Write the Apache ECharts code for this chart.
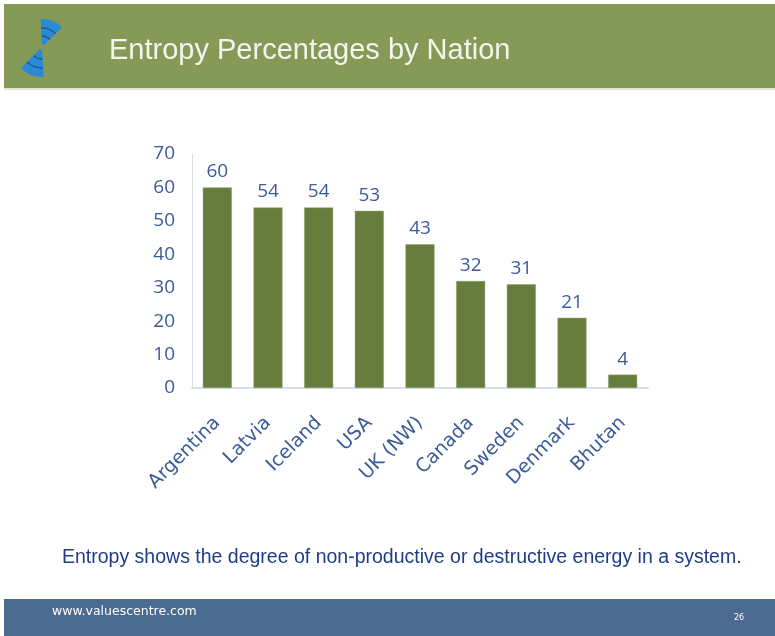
<!DOCTYPE html>
<html>
<head>
<meta charset="utf-8">
<script src="https://cdn.jsdelivr.net/npm/echarts@6/dist/echarts.min.js"></script>
<style>
html, body { margin: 0; padding: 0; background: #fff; }
#main { width: 775px; height: 636px; }
</style>
</head>
<body>
<div id="main"></div>
<script>
var nations = ['Argentina', 'Latvia', 'Iceland', 'USA', 'UK (NW)', 'Canada', 'Sweden', 'Denmark', 'Bhutan'];
var entropy = [60, 54, 54, 53, 43, 32, 31, 21, 4];
var yTicks = [0, 10, 20, 30, 40, 50, 60, 70];

var chart = echarts.init(document.getElementById('main'));
var blue = '#3b5c99';

// logo: two fans around a narrow waist, tilted
var lc = [42, 47];
var upA = -1.2, dnA = 1.94;
function fan(dir, r) {
    return { type: 'sector', z: -5, shape: { cx: lc[0], cy: lc[1], r: r, r0: 3, startAngle: dir - 0.42, endAngle: dir + 0.42 }, style: { fill: '#2b8ad6' } };
}
function ring(dir, r) {
    return { type: 'arc', z: -4, shape: { cx: lc[0], cy: lc[1], r: r, startAngle: dir - 0.42, endAngle: dir + 0.42 }, style: { stroke: '#1c5c9c', lineWidth: 1.5, fill: null } };
}

var option = {
    backgroundColor: '#ffffff',
    animation: false,
    title: {
        text: 'Entropy Percentages by Nation',
        left: 104,
        top: 31,
        textStyle: {
            color: '#f4f6ee',
            fontSize: 29,
            fontWeight: 'normal',
            fontFamily: 'Liberation Sans, sans-serif'
        }
    },
    grid: {
        left: 192,
        top: 154,
        width: 456,
        height: 234
    },
    xAxis: {
        type: 'category',
        data: nations,
        axisLine: { lineStyle: { color: '#d9dee8', width: 2 } },
        axisTick: { show: false },
        axisLabel: {
            rotate: 45,
            interval: 0,
            margin: 32,
            color: blue,
            fontSize: 19,
            fontFamily: 'DejaVu Sans, sans-serif'
        }
    },
    yAxis: {
        type: 'value',
        min: yTicks[0],
        max: yTicks[yTicks.length - 1],
        interval: 10,
        axisLine: { show: true, lineStyle: { color: '#d9dee8', width: 1 } },
        axisTick: { show: false },
        splitLine: { show: false },
        axisLabel: {
            margin: 17,
            color: blue,
            fontSize: 19,
            fontFamily: 'Open Sans, sans-serif'
        }
    },
    series: [{
        type: 'bar',
        data: entropy,
        barWidth: 29,
        itemStyle: { color: '#667d3d', borderColor: '#8fa06a', borderWidth: 0.5 },
        label: {
            show: true,
            position: 'top',
            distance: 6,
            color: blue,
            fontSize: 19,
            fontFamily: 'Open Sans, sans-serif'
        }
    }],
    graphic: [
        { type: 'rect', z: -10, shape: { x: 4, y: 4, width: 771, height: 84 }, style: { fill: '#849a56' } },
        { type: 'rect', z: -10, shape: { x: 4, y: 88, width: 771, height: 2 }, style: { fill: '#dfe6d2' } },
        fan(upA, 28), fan(dnA, 30),
        ring(upA, 11), ring(upA, 19), ring(dnA, 12), ring(dnA, 21),
        {
            type: 'text', left: 62, top: 548,
            style: {
                text: 'Entropy shows the degree of non-productive or destructive energy in a system.',
                fill: '#1f3c88', fontSize: 19.5, fontFamily: 'Liberation Sans, Arial, sans-serif'
            }
        },
        { type: 'rect', z: -10, shape: { x: 4, y: 599, width: 771, height: 37 }, style: { fill: '#4a6a8f' } },
        {
            type: 'text', left: 52, top: 605,
            style: { text: 'www.valuescentre.com', fill: '#ffffff', fontSize: 12.5, fontFamily: 'DejaVu Sans, sans-serif' }
        },
        {
            type: 'text', left: 734, top: 614,
            style: { text: '26', fill: '#ffffff', fontSize: 8, fontFamily: 'DejaVu Sans, sans-serif' }
        }
    ]
};

chart.setOption(option);
</script>
</body>
</html>
